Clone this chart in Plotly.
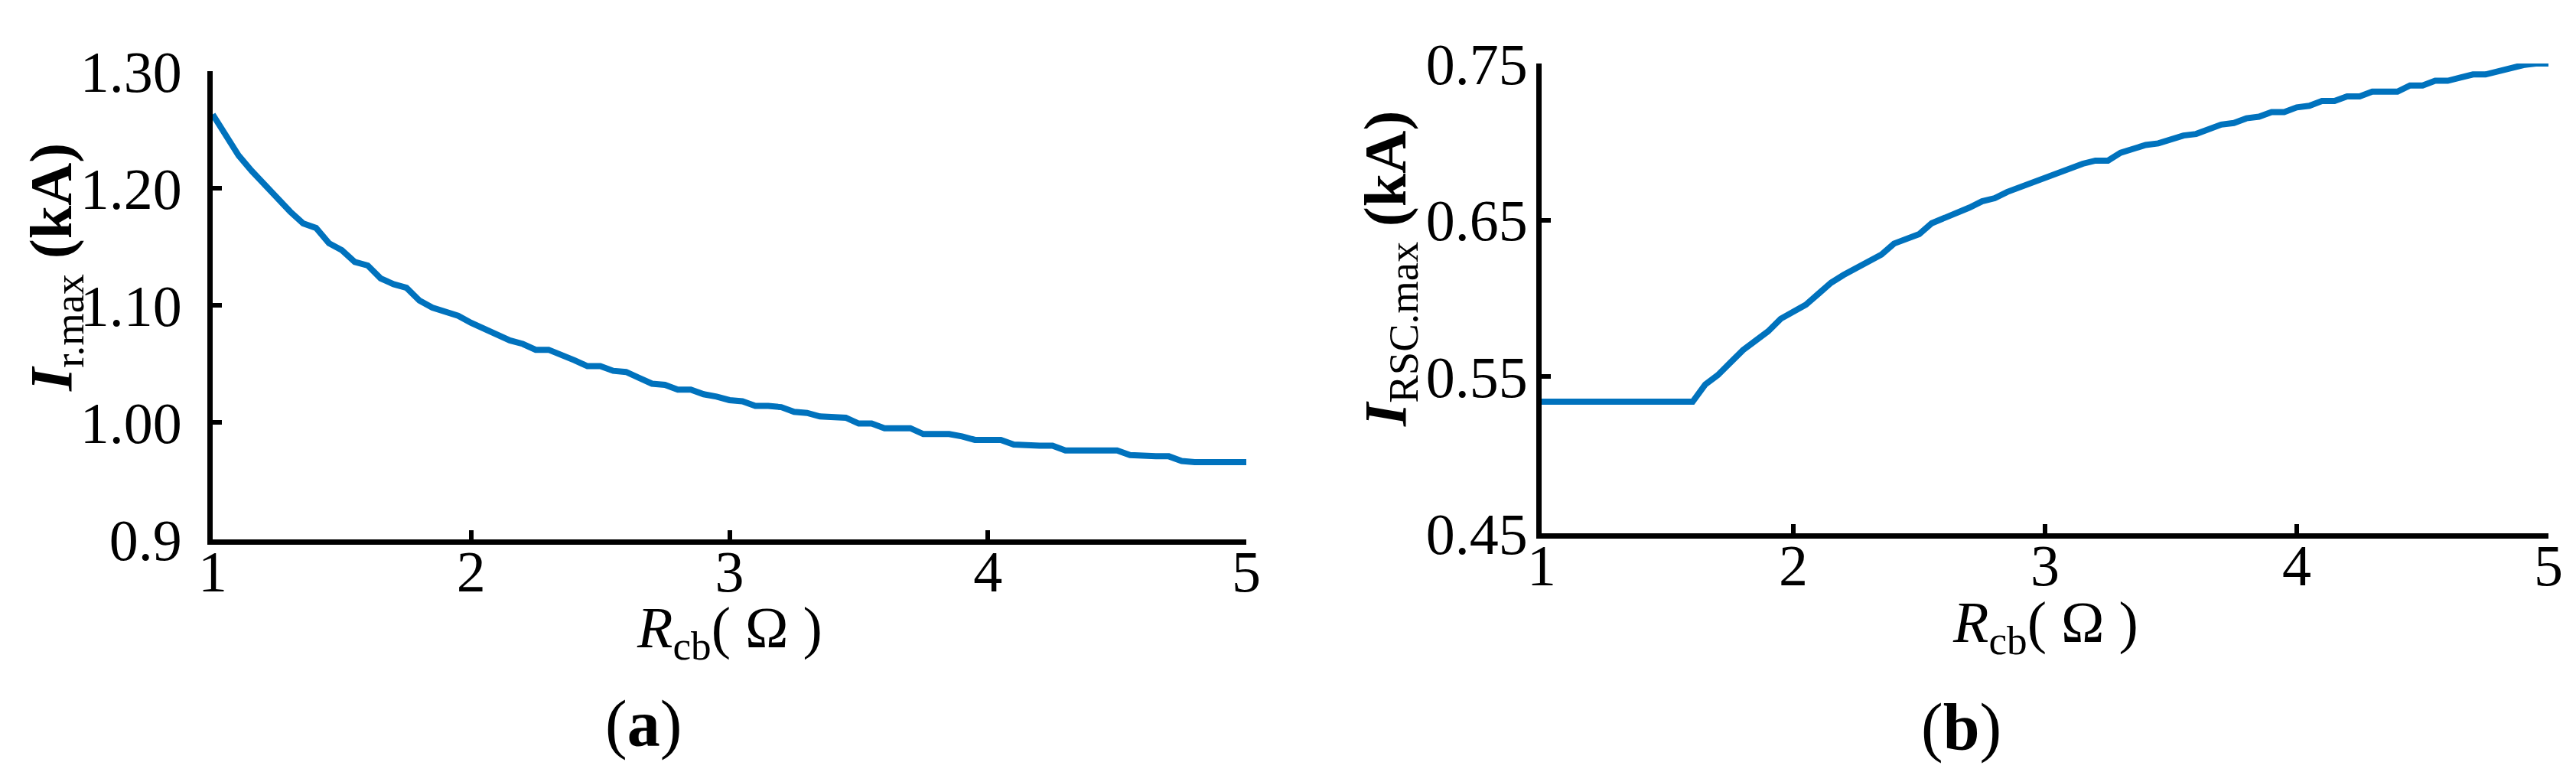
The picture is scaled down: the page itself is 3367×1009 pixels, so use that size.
import plotly.graph_objects as go
from plotly.subplots import make_subplots

# crowbar resistance (ohm), shared by both panels
r_cb = [1.00, 1.05, 1.10, 1.15, 1.20, 1.25, 1.30, 1.35, 1.40, 1.45,
        1.50, 1.55, 1.60, 1.65, 1.70, 1.75, 1.80, 1.85, 1.90, 1.95,
        2.00, 2.05, 2.10, 2.15, 2.20, 2.25, 2.30, 2.35, 2.40, 2.45,
        2.50, 2.55, 2.60, 2.65, 2.70, 2.75, 2.80, 2.85, 2.90, 2.95,
        3.00, 3.05, 3.10, 3.15, 3.20, 3.25, 3.30, 3.35, 3.40, 3.45,
        3.50, 3.55, 3.60, 3.65, 3.70, 3.75, 3.80, 3.85, 3.90, 3.95,
        4.00, 4.05, 4.10, 4.15, 4.20, 4.25, 4.30, 4.35, 4.40, 4.45,
        4.50, 4.55, 4.60, 4.65, 4.70, 4.75, 4.80, 4.85, 4.90, 4.95,
        5.00]

# (a) peak rotor current (kA)
i_r_max = [1.263, 1.245, 1.228, 1.215, 1.203, 1.192, 1.180, 1.170, 1.166, 1.153,
           1.147, 1.137, 1.134, 1.123, 1.118, 1.115, 1.104, 1.098, 1.094, 1.091,
           1.085, 1.080, 1.076, 1.070, 1.067, 1.062, 1.062, 1.058, 1.053, 1.048,
           1.048, 1.044, 1.043, 1.038, 1.033, 1.032, 1.028, 1.028, 1.024, 1.022,
           1.019, 1.018, 1.014, 1.014, 1.013, 1.009, 1.008, 1.005, 1.005, 1.004,
           0.999, 0.999, 0.995, 0.995, 0.995, 0.990, 0.990, 0.990, 0.988, 0.985,
           0.985, 0.985, 0.981, 0.980, 0.980, 0.980, 0.976, 0.976, 0.976, 0.976,
           0.976, 0.972, 0.971, 0.971, 0.971, 0.967, 0.966, 0.966, 0.966, 0.966,
           0.966]

# (b) peak RSC current (kA)
i_rsc_max = [0.534, 0.534, 0.534, 0.534, 0.534, 0.534, 0.534, 0.534, 0.534, 0.534,
             0.534, 0.534, 0.534, 0.545, 0.551, 0.559, 0.567, 0.573, 0.579, 0.587,
             0.592, 0.596, 0.603, 0.610, 0.615, 0.619, 0.624, 0.628, 0.635, 0.638,
             0.641, 0.648, 0.651, 0.654, 0.658, 0.662, 0.664, 0.668, 0.671, 0.675,
             0.678, 0.680, 0.683, 0.686, 0.688, 0.688, 0.693, 0.696, 0.698, 0.699,
             0.702, 0.704, 0.705, 0.708, 0.711, 0.712, 0.715, 0.716, 0.719, 0.719,
             0.722, 0.723, 0.726, 0.726, 0.729, 0.729, 0.732, 0.732, 0.732, 0.736,
             0.736, 0.739, 0.739, 0.741, 0.743, 0.743, 0.745, 0.746, 0.749, 0.750,
             0.750]

x_ticks = [1, 2, 3, 4, 5]
ya_ticks = [0.9, 1.0, 1.1, 1.2, 1.3]
ya_text = ['0.9', '1.00', '1.10', '1.20', '1.30']
yb_ticks = [0.45, 0.55, 0.65, 0.75]
yb_text = ['0.45', '0.55', '0.65', '0.75']

W, H = 3367, 1009
BLUE = '#0072BD'
FONT = 'Liberation Serif'

fig = make_subplots(rows=1, cols=2)

fig.add_trace(go.Scatter(x=r_cb, y=i_r_max, mode='lines',
                         line=dict(color=BLUE, width=8)), row=1, col=1)
fig.add_trace(go.Scatter(x=r_cb, y=i_rsc_max, mode='lines',
                         line=dict(color=BLUE, width=8)), row=1, col=2)

axis_style = dict(showline=True, linewidth=7, linecolor='black', mirror=False,
                  showgrid=False, zeroline=False, ticks='inside', ticklen=12,
                  tickwidth=6, tickcolor='black', automargin=False,
                  tickfont=dict(family=FONT, size=76, color='black'))

fig.update_xaxes(**axis_style)
fig.update_yaxes(**axis_style)

# pixel placement of the two plot areas
fig.update_xaxes(domain=[270 / W, 1621 / W], range=[1, 5], tickvals=x_ticks,
                 ticklabelstandoff=-30, row=1, col=1)
fig.update_yaxes(domain=[1 - 697 / H, 1 - 85 / H], range=[0.9, 1.3],
                 tickvals=ya_ticks, ticktext=ya_text, ticklabelstandoff=18,
                 row=1, col=1)
fig.update_xaxes(domain=[2007 / W, 3323 / W], range=[1, 5], tickvals=x_ticks,
                 ticklabelstandoff=-30, row=1, col=2)
fig.update_yaxes(domain=[1 - 689 / H, 1 - 75 / H], range=[0.45, 0.75],
                 tickvals=yb_ticks, ticktext=yb_text, ticklabelstandoff=-4,
                 row=1, col=2)

xlabel = "<i>R</i><sub>cb</sub>( Ω )"

labels = [
    (64, 342, "<b><i>I</i></b><sub>r.max</sub> <b>(kA)</b>", -90, 78),
    (1808, 344, "<b><i>I</i></b><sub>RSC.max</sub> <b>(kA)</b>", -90, 78),
    (945, 818, xlabel, 0, 76),
    (2665, 811, xlabel, 0, 76),
    (833, 938, "(<b>a</b>)", 0, 86),
    (2555, 942, "(<b>b</b>)", 0, 86),
]
for px, py, txt, ang, sz in labels:
    fig.add_annotation(x=px / W, y=1 - py / H, xref='paper', yref='paper',
                       text=txt, textangle=ang, showarrow=False,
                       xanchor='center', yanchor='middle',
                       font=dict(family=FONT, size=sz, color='black'))

fig.update_layout(
    width=W, height=H,
    margin=dict(l=0, r=0, t=0, b=0),
    paper_bgcolor='white',
    plot_bgcolor='white',
    showlegend=False,
    font=dict(family=FONT, size=76, color='black'),
)

fig.write_html("out.html")
